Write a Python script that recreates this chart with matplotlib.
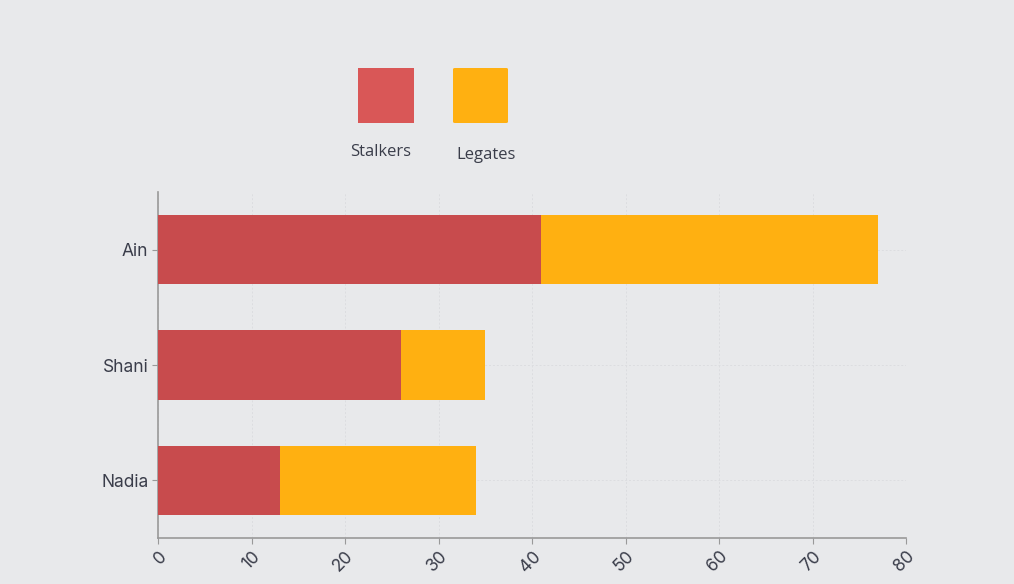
import matplotlib.pyplot as plt
from matplotlib.patches import Rectangle, FancyBboxPatch

# data
names = ['Ain', 'Shani', 'Nadia']
stalkers = [41, 26, 13]
legates = [36, 9, 21]
ticks = [0, 10, 20, 30, 40, 50, 60, 70, 80]

bg = '#e8e9eb'
col_stalk = '#c84b4d'
col_leg = '#ffb011'
txt = '#3a3d4a'

fig = plt.figure(figsize=(10.14, 5.84), dpi=100, facecolor=bg)
ax = fig.add_axes([158 / 1014, 46 / 584, 748 / 1014, 346 / 584], facecolor=bg)

ypos = list(range(len(names)))
ax.barh(ypos, stalkers, height=0.6, color=col_stalk, zorder=3)
ax.barh(ypos, legates, left=stalkers, height=0.6, color=col_leg, zorder=3)

ax.set_xlim(0, 80)
ax.set_ylim(2.5, -0.5)
ax.set_yticks(ypos)
ax.set_yticklabels(names, fontsize=12.5, color=txt, family='Inter')
ax.set_xticks(ticks)
ax.set_xticklabels([str(t) for t in ticks], rotation=45, ha='right', va='top',
                   rotation_mode='anchor', fontsize=12.5, color=txt, family='Inter')

ax.grid(True, color='#dcdde0', linestyle=(0, (2, 2)), linewidth=0.7, zorder=0)
for s in ['top', 'right']:
    ax.spines[s].set_visible(False)
for s in ['left', 'bottom']:
    ax.spines[s].set_color('#999999')
    ax.spines[s].set_linewidth(1.2)
ax.tick_params(axis='both', length=4, color='#999999', pad=3)

# legend drawn by hand: squares above labels
fig.patches.append(Rectangle((358 / 1014, (584 - 123) / 584), 56 / 1014, 55 / 584,
                             transform=fig.transFigure, facecolor='#d95757', edgecolor='none'))
fig.patches.append(FancyBboxPatch((453 / 1014, (584 - 123) / 584), 55 / 1014, 55 / 584,
                                  boxstyle='round,pad=0,rounding_size=0.002',
                                  transform=fig.transFigure, facecolor=col_leg, edgecolor='none'))
fig.text(381 / 1014, 1 - 152 / 584, 'Stalkers', ha='center', va='center',
         fontsize=12, color=txt, family='Open Sans')
fig.text(486 / 1014, 1 - 155 / 584, 'Legates', ha='center', va='center',
         fontsize=12, color=txt, family='Open Sans')

plt.savefig('out.png', facecolor=bg)
